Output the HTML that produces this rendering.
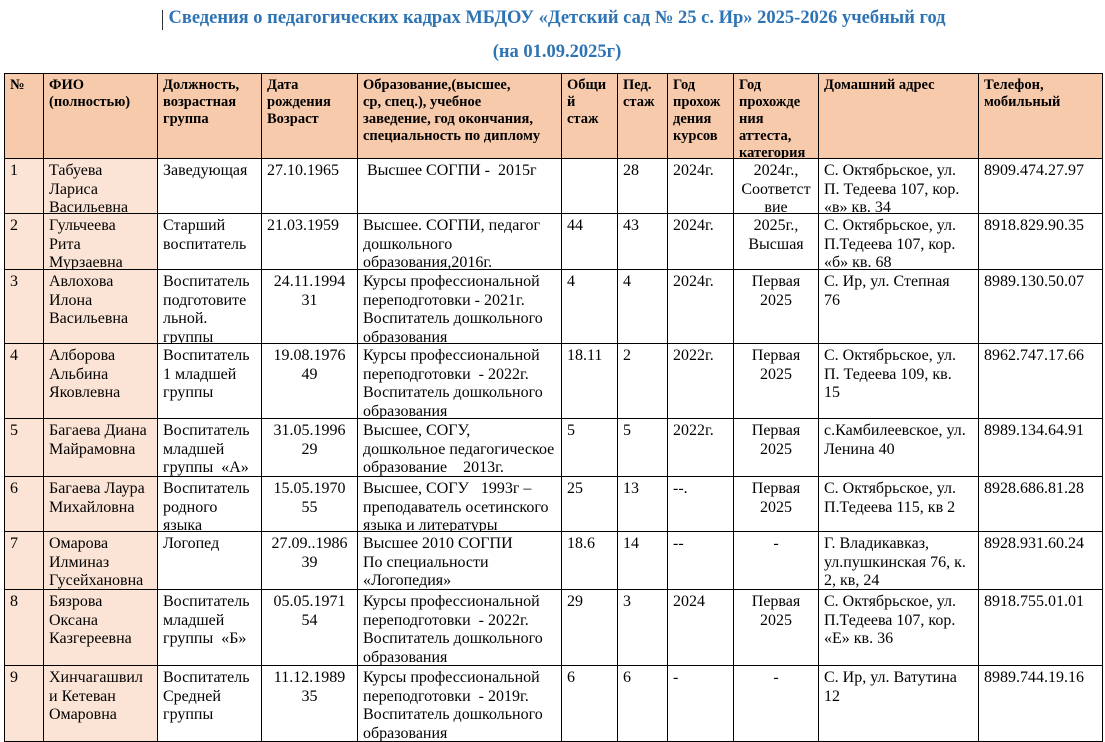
<!DOCTYPE html>
<html><head><meta charset="utf-8"><style>
body{margin:0;width:1105px;height:725px;overflow:hidden;background:#fff;font-family:"Liberation Serif","DejaVu Serif",serif;}
.t1{position:absolute;left:164px;width:786px;text-align:center;color:#2e74b5;font-weight:bold;font-size:18.5px;white-space:nowrap;}
.cur{position:absolute;left:162px;top:10px;width:1px;height:20px;background:#333;}
table{position:absolute;left:4px;top:73px;border-collapse:collapse;table-layout:fixed;width:1098px;}
td{border:1.5px solid #000;vertical-align:top;padding:0 5px;font-size:16px;line-height:18.5px;color:#000;white-space:nowrap;}
td div{overflow:hidden;padding-top:3px;}
tr.h td{background:#f7caac;font-weight:bold;font-size:14.5px;line-height:17px;}
td.a{background:#fbe4d5;}
.c{text-align:center;}
.h div{height:81px}.r1 div{height:51px}.r2 div{height:52px}.r3 div{height:70px}.r4 div{height:71px}.r5 div{height:54px}.r6 div{height:51px}.r7 div{height:54px}.r8 div{height:72px}.r9 div{height:72px}
</style></head><body>
<div class="cur"></div>
<div class="t1" style="top:8px">Сведения о педагогических кадрах МБДОУ «Детский сад № 25 с. Ир» 2025-2026 учебный год</div>
<div class="t1" style="top:42px">(на 01.09.2025г)</div>
<table>
<colgroup><col style="width:39px"><col style="width:114px"><col style="width:104px"><col style="width:96px"><col style="width:204px"><col style="width:56px"><col style="width:50px"><col style="width:66px"><col style="width:85px"><col style="width:160px"><col style="width:124px"></colgroup>
<tr class="h"><td><div>№</div></td><td><div>ФИО<br>(полностью)</div></td><td><div>Должность,<br>возрастная<br>группа</div></td><td><div>Дата<br>рождения<br>Возраст</div></td><td><div>Образование,(высшее,<br>ср, спец.), учебное<br>заведение, год окончания,<br>специальность по диплому</div></td><td><div>Общи<br>й<br>стаж</div></td><td><div>Пед.<br>стаж</div></td><td><div>Год<br>прохож<br>дения<br>курсов</div></td><td><div>Год<br>прохожде<br>ния<br>аттеста,<br>категория</div></td><td><div>Домашний адрес</div></td><td><div>Телефон,<br>мобильный</div></td></tr>
<tr class="r1"><td class="a"><div>1</div></td><td class="a"><div>Табуева<br>Лариса<br>Васильевна</div></td><td><div>Заведующая</div></td><td><div>27.10.1965</div></td><td><div>&nbsp;Высшее СОГПИ -&nbsp; 2015г</div></td><td><div></div></td><td><div>28</div></td><td><div>2024г.</div></td><td class="c"><div>2024г.,<br>Соответст<br>вие</div></td><td><div>С. Октябрьское, ул.<br>П. Тедеева 107, кор.<br>«в» кв. 34</div></td><td><div>8909.474.27.97</div></td></tr>
<tr class="r2"><td class="a"><div>2</div></td><td class="a"><div>Гульчеева<br>Рита<br>Мурзаевна</div></td><td><div>Старший<br>воспитатель</div></td><td><div>21.03.1959</div></td><td><div>Высшее. СОГПИ, педагог<br>дошкольного<br>образования,2016г.</div></td><td><div>44</div></td><td><div>43</div></td><td><div>2024г.</div></td><td class="c"><div>2025г.,<br>Высшая</div></td><td><div>С. Октябрьское, ул.<br>П.Тедеева 107, кор.<br>«б» кв. 68</div></td><td><div>8918.829.90.35</div></td></tr>
<tr class="r3"><td class="a"><div>3</div></td><td class="a"><div>Авлохова<br>Илона<br>Васильевна</div></td><td><div>Воспитатель<br>подготовите<br>льной.<br>группы</div></td><td class="c"><div>24.11.1994<br>31</div></td><td><div>Курсы профессиональной<br>переподготовки - 2021г.<br>Воспитатель дошкольного<br>образования</div></td><td><div>4</div></td><td><div>4</div></td><td><div>2024г.</div></td><td class="c"><div>Первая<br>2025</div></td><td><div>С. Ир, ул. Степная<br>76</div></td><td><div>8989.130.50.07</div></td></tr>
<tr class="r4"><td class="a"><div>4</div></td><td class="a"><div>Алборова<br>Альбина<br>Яковлевна</div></td><td><div>Воспитатель<br>1 младшей<br>группы</div></td><td class="c"><div>19.08.1976<br>49</div></td><td><div>Курсы профессиональной<br>переподготовки&nbsp; - 2022г.<br>Воспитатель дошкольного<br>образования</div></td><td><div>18.11</div></td><td><div>2</div></td><td><div>2022г.</div></td><td class="c"><div>Первая<br>2025</div></td><td><div>С. Октябрьское, ул.<br>П. Тедеева 109, кв.<br>15</div></td><td><div>8962.747.17.66</div></td></tr>
<tr class="r5"><td class="a"><div>5</div></td><td class="a"><div>Багаева Диана<br>Майрамовна</div></td><td><div>Воспитатель<br>младшей<br>группы&nbsp; «А»</div></td><td class="c"><div>31.05.1996<br>29</div></td><td><div>Высшее, СОГУ,<br>дошкольное педагогическое<br>образование&nbsp;&nbsp;&nbsp; 2013г.</div></td><td><div>5</div></td><td><div>5</div></td><td><div>2022г.</div></td><td class="c"><div>Первая<br>2025</div></td><td><div>с.Камбилеевское, ул.<br>Ленина 40</div></td><td><div>8989.134.64.91</div></td></tr>
<tr class="r6"><td class="a"><div>6</div></td><td class="a"><div>Багаева Лаура<br>Михайловна</div></td><td><div>Воспитатель<br>родного<br>языка</div></td><td class="c"><div>15.05.1970<br>55</div></td><td><div>Высшее, СОГУ&nbsp;&nbsp; 1993г –<br>преподаватель осетинского<br>языка и литературы</div></td><td><div>25</div></td><td><div>13</div></td><td><div>--.</div></td><td class="c"><div>Первая<br>2025</div></td><td><div>С. Октябрьское, ул.<br>П.Тедеева 115, кв 2</div></td><td><div>8928.686.81.28</div></td></tr>
<tr class="r7"><td class="a"><div>7</div></td><td class="a"><div>Омарова<br>Илминаз<br>Гусейхановна</div></td><td><div>Логопед</div></td><td class="c"><div>27.09..1986<br>39</div></td><td><div>Высшее 2010 СОГПИ<br>По специальности<br>«Логопедия»</div></td><td><div>18.6</div></td><td><div>14</div></td><td><div>--</div></td><td class="c"><div>-</div></td><td><div>Г. Владикавказ,<br>ул.пушкинская 76, к.<br>2, кв, 24</div></td><td><div>8928.931.60.24</div></td></tr>
<tr class="r8"><td class="a"><div>8</div></td><td class="a"><div>Бязрова<br>Оксана<br>Казгереевна</div></td><td><div>Воспитатель<br>младшей<br>группы&nbsp; «Б»</div></td><td class="c"><div>05.05.1971<br>54</div></td><td><div>Курсы профессиональной<br>переподготовки&nbsp; - 2022г.<br>Воспитатель дошкольного<br>образования</div></td><td><div>29</div></td><td><div>3</div></td><td><div>2024</div></td><td class="c"><div>Первая<br>2025</div></td><td><div>С. Октябрьское, ул.<br>П.Тедеева 107, кор.<br>«Е» кв. 36</div></td><td><div>8918.755.01.01</div></td></tr>
<tr class="r9"><td class="a"><div>9</div></td><td class="a"><div>Хинчагашвил<br>и Кетеван<br>Омаровна</div></td><td><div>Воспитатель<br>Средней<br>группы</div></td><td class="c"><div>11.12.1989<br>35</div></td><td><div>Курсы профессиональной<br>переподготовки&nbsp; - 2019г.<br>Воспитатель дошкольного<br>образования</div></td><td><div>6</div></td><td><div>6</div></td><td><div>-</div></td><td class="c"><div>-</div></td><td><div>С. Ир, ул. Ватутина<br>12</div></td><td><div>8989.744.19.16</div></td></tr>
</table>
</body></html>
